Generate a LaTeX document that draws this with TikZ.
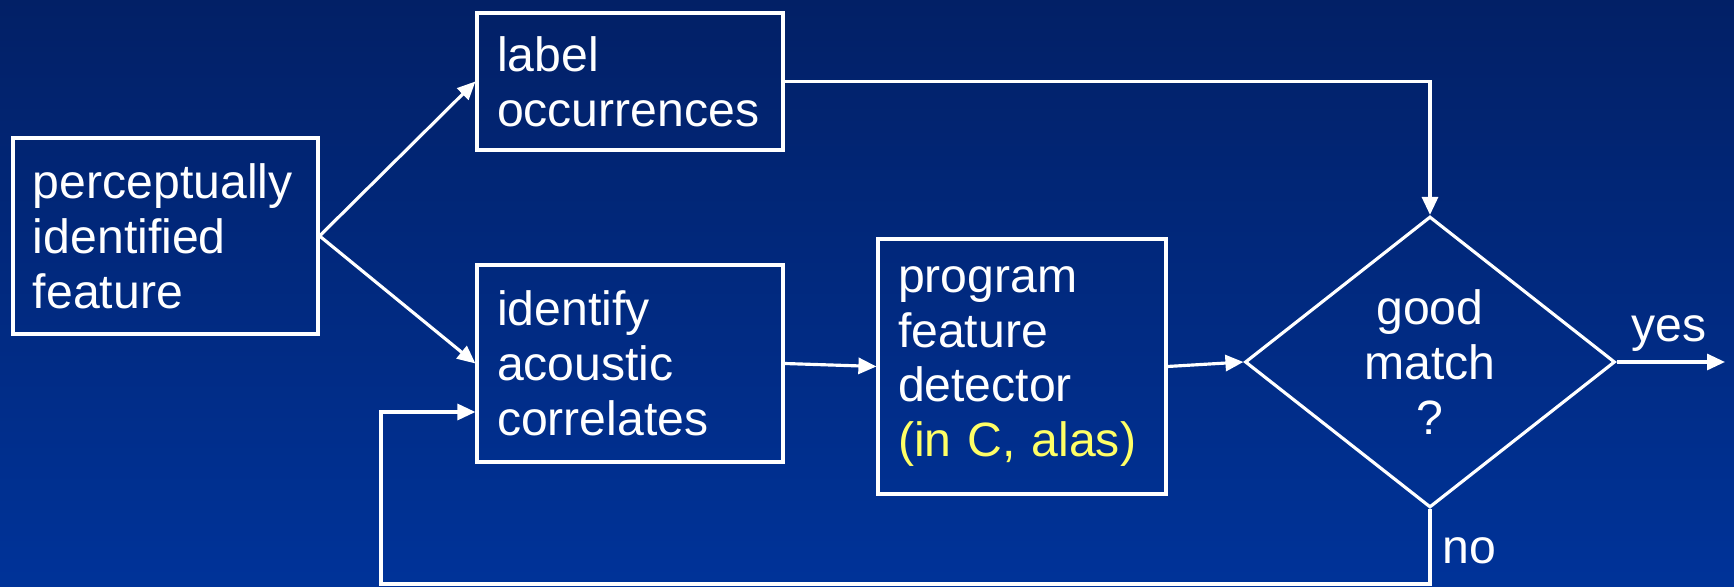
\documentclass[tikz,border=0pt]{standalone}
\usepackage{fontspec}
\setmainfont{Liberation Sans}
\usetikzlibrary{shapes.geometric,arrows.meta}

\definecolor{slidetop}{RGB}{2,32,102}
\definecolor{slidebottom}{RGB}{0,51,153}
\definecolor{alasyellow}{RGB}{255,255,102}

\begin{document}
\begin{tikzpicture}[
        box/.style={draw=white, line width=0.9pt, text=white, align=left, inner xsep=0.2cm,
                    font=\fontsize{13.7}{15.6}\selectfont},
        decide/.style={draw=white, line width=0.9pt, text=white, align=center, shape=diamond,
                    inner sep=0pt, font=\fontsize{13.7}{15.6}\selectfont},
        arr/.style={draw=white, line width=0.9pt, -{Triangle[length=0.18cm,width=0.16cm]}},
        lbl/.style={text=white, inner sep=0pt, font=\fontsize{13.7}{15.6}\selectfont}
    ]
            \shade[top color=slidetop, bottom color=slidebottom] (0,0) rectangle (17.34,-5.87);
            \useasboundingbox (0,0) rectangle (17.34,-5.87);

            % boxes
            \node[box, minimum width=3.05cm, minimum height=1.96cm, text width=2.65cm] (percept) at (1.655,-2.36) {perceptually\\identified\\feature};
            \node[box, minimum width=3.06cm, minimum height=1.37cm, text width=2.66cm] (label) at (6.30,-0.815) {label\\occurrences};
            \node[box, minimum width=3.06cm, minimum height=1.97cm, text width=2.66cm] (ident) at (6.30,-3.635) {identify\\acoustic\\correlates};
            \node[box, minimum width=2.88cm, minimum height=2.55cm, text width=2.48cm] (prog) at (10.22,-3.665) {program\\feature\\detector\\\textcolor{alasyellow}{(in C, alas)}};
            \node[decide, minimum width=3.70cm, minimum height=2.91cm] (match) at (14.30,-3.62) {good\\match\\?};

            % answers
            \node[lbl, anchor=base] (yes) at (16.69,-3.42) {yes};
            \node[lbl, anchor=base] (no) at (14.69,-5.64) {no};
            \coordinate (out) at (17.25,-3.62);
            \coordinate (back) at (3.81,-5.84);

            % connectors
            \draw[arr] (percept.east) -- (label.west);
            \draw[arr] (percept.east) -- (ident.west);
            \draw[arr] (ident.east) -- (prog.west);
            \draw[arr] (prog.east) -- (match.west);
            \draw[arr] (label.east) -| (match.north);
            \draw[arr] (match.east) -- (out);
            \draw[arr] (match.south) |- (back) |- ([yshift=-4.85mm]ident.west);
\end{tikzpicture}
\end{document}
